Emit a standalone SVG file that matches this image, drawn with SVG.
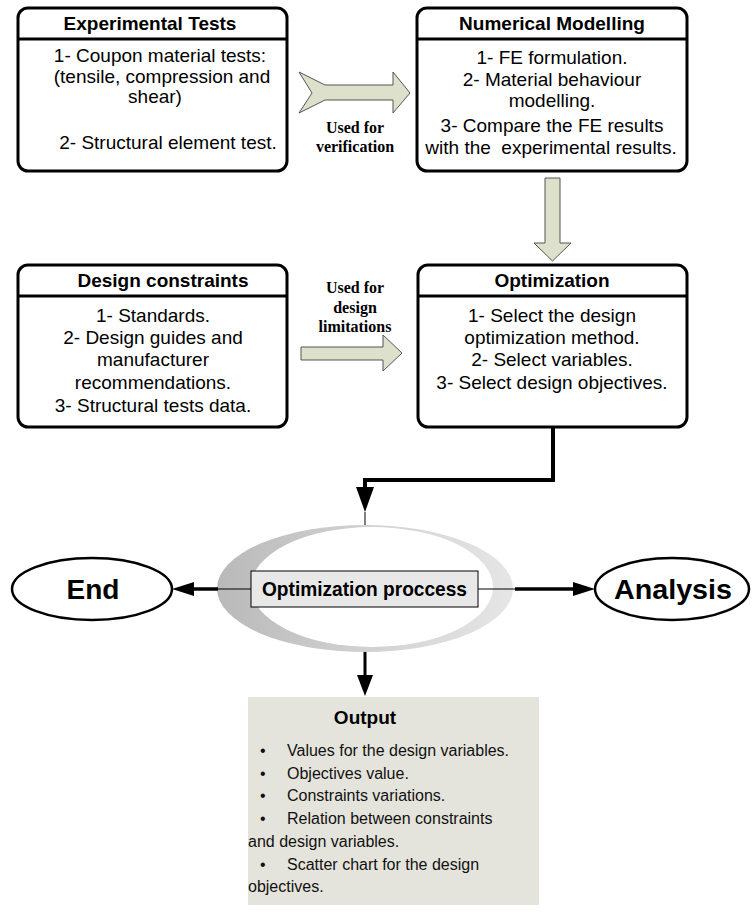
<svg xmlns="http://www.w3.org/2000/svg" width="752" height="919" viewBox="0 0 752 919">
<style>
.box{fill:#fff;stroke:#000;stroke-width:3}
.div{stroke:#000;stroke-width:3}
.ttl{font-family:"Liberation Sans",Arial,sans-serif;font-weight:bold;font-size:19px;text-anchor:middle;fill:#000}
.bd{font-family:"Liberation Sans",Arial,sans-serif;font-size:19px;text-anchor:middle;fill:#000}
.lbl{font-family:"Liberation Serif","Times New Roman",serif;font-weight:bold;font-size:16px;text-anchor:middle;fill:#000}
.fat{fill:#dde0cb;stroke:#555;stroke-width:1}
.out{font-family:"Liberation Sans",Arial,sans-serif;font-size:16px;fill:#111}
.big{font-family:"Liberation Sans",Arial,sans-serif;font-weight:bold;font-size:28px;text-anchor:middle;fill:#000}
</style>
<defs>
<linearGradient id="ring" x1="0" y1="0" x2="1" y2="0">
<stop offset="0" stop-color="#b9b9b9"/>
<stop offset="0.45" stop-color="#cfcfcf"/>
<stop offset="1" stop-color="#e6e6e6"/>
</linearGradient>
</defs>
<rect width="752" height="919" fill="#fff"/>

<g id="experimental">
<rect class="box" x="18" y="8" width="269" height="163" rx="10"/>
<line class="div" x1="18" y1="39" x2="287" y2="39"/>
<text class="ttl" x="150" y="30">Experimental Tests</text>
<text class="bd" x="160" y="62">1- Coupon material tests:</text>
<text class="bd" x="162" y="83">(tensile, compression and</text>
<text class="bd" x="155" y="103">shear)</text>
<text class="bd" x="168" y="149">2- Structural element test.</text>
</g>

<g id="numerical">
<rect class="box" x="417" y="8" width="270" height="163" rx="10"/>
<line class="div" x1="417" y1="39" x2="687" y2="39"/>
<text class="ttl" x="552" y="30">Numerical Modelling</text>
<text class="bd" x="552" y="64">1- FE formulation.</text>
<text class="bd" x="552" y="86">2- Material behaviour</text>
<text class="bd" x="552" y="107">modelling.</text>
<text class="bd" x="552" y="132">3- Compare the FE results</text>
<text class="bd" x="551" y="154" xml:space="preserve">with the  experimental results.</text>
</g>

<g id="constraints">
<rect class="box" x="18" y="265" width="269" height="162" rx="10"/>
<line class="div" x1="18" y1="296" x2="287" y2="296"/>
<text class="ttl" x="163" y="287">Design constraints</text>
<text class="bd" x="153" y="322">1- Standards.</text>
<text class="bd" x="153" y="344">2- Design guides and</text>
<text class="bd" x="153" y="366">manufacturer</text>
<text class="bd" x="153" y="389">recommendations.</text>
<text class="bd" x="153" y="412">3- Structural tests data.</text>
</g>

<g id="optimization">
<rect class="box" x="418" y="265" width="269" height="162" rx="10"/>
<line class="div" x1="418" y1="296" x2="687" y2="296"/>
<text class="ttl" x="552" y="287">Optimization</text>
<text class="bd" x="552" y="322">1- Select the design</text>
<text class="bd" x="552" y="344">optimization method.</text>
<text class="bd" x="552" y="366">2- Select variables.</text>
<text class="bd" x="552" y="389">3- Select design objectives.</text>
</g>

<g id="process">
<ellipse cx="365" cy="588.5" rx="148" ry="63.5" fill="url(#ring)"/>
<ellipse cx="372" cy="587" rx="121" ry="60" fill="#fff"/>
<rect x="251" y="571" width="227" height="36" fill="#e8e8e8" stroke="#000" stroke-width="1"/>
<text x="364.5" y="596" font-family="Liberation Sans, Arial, sans-serif" font-weight="bold" font-size="21" text-anchor="middle" textLength="205" lengthAdjust="spacingAndGlyphs">Optimization proccess</text>
</g>

<g id="end">
<ellipse cx="92" cy="589" rx="80" ry="31" fill="#fff" stroke="#000" stroke-width="2.5"/>
<text class="big" x="93" y="599" textLength="53" lengthAdjust="spacingAndGlyphs">End</text>
</g>

<g id="analysis">
<ellipse cx="672" cy="589" rx="77" ry="31" fill="#fff" stroke="#000" stroke-width="2.5"/>
<text class="big" x="673" y="599" textLength="118" lengthAdjust="spacingAndGlyphs">Analysis</text>
</g>

<g id="output">
<rect x="248" y="697" width="291" height="208" fill="#e5e4dc"/>
<text x="365" y="724" font-family="Liberation Sans, Arial, sans-serif" font-weight="bold" font-size="19" text-anchor="middle">Output</text>
<text class="out" x="260" y="756">•</text><text class="out" x="287" y="756">Values for the design variables.</text>
<text class="out" x="260" y="779">•</text><text class="out" x="287" y="779">Objectives value.</text>
<text class="out" x="260" y="801">•</text><text class="out" x="287" y="801">Constraints variations.</text>
<text class="out" x="260" y="824">•</text><text class="out" x="287" y="824">Relation between constraints</text>
<text class="out" x="248" y="847">and design variables.</text>
<text class="out" x="260" y="870">•</text><text class="out" x="287" y="870">Scatter chart for the design</text>
<text class="out" x="248" y="892">objectives.</text>
</g>

<g id="connectors">
<polygon class="fat" points="299,72 325,85 393,85 393,72 410,93 393,113 393,100 325,100 299,113 312,93"/>
<text class="lbl" x="355" y="133">Used for</text>
<text class="lbl" x="355" y="152">verification</text>
<polygon class="fat" points="545,178 560,178 560,243 571,243 552.5,261 534,243 545,243"/>
<polygon class="fat" points="301,347 383,347 383,335 402,353 383,371 383,360 301,360"/>
<text class="lbl" x="355" y="293">Used for</text>
<text class="lbl" x="355" y="313">design</text>
<text class="lbl" x="355" y="332">limitations</text>
<polyline points="553,427 553,480 365,480 365,490" fill="none" stroke="#000" stroke-width="4"/>
<polygon points="356,487 374,487 365,512" fill="#000"/>
<line x1="365" y1="512" x2="365" y2="525" stroke="#000" stroke-width="1"/>
<line x1="218" y1="589" x2="251" y2="589" stroke="#000" stroke-width="1"/>
<line x1="192" y1="589" x2="218" y2="589" stroke="#000" stroke-width="3.5"/>
<polygon points="172,589 194,582 194,596" fill="#000"/>
<line x1="478" y1="589" x2="515" y2="589" stroke="#000" stroke-width="1"/>
<line x1="515" y1="589" x2="575" y2="589" stroke="#000" stroke-width="3.5"/>
<polygon points="595,589 573,582 573,596" fill="#000"/>
<line x1="365" y1="652" x2="365" y2="678" stroke="#000" stroke-width="3"/>
<polygon points="357,675 373,675 365,696" fill="#000"/>
</g>
</svg>
